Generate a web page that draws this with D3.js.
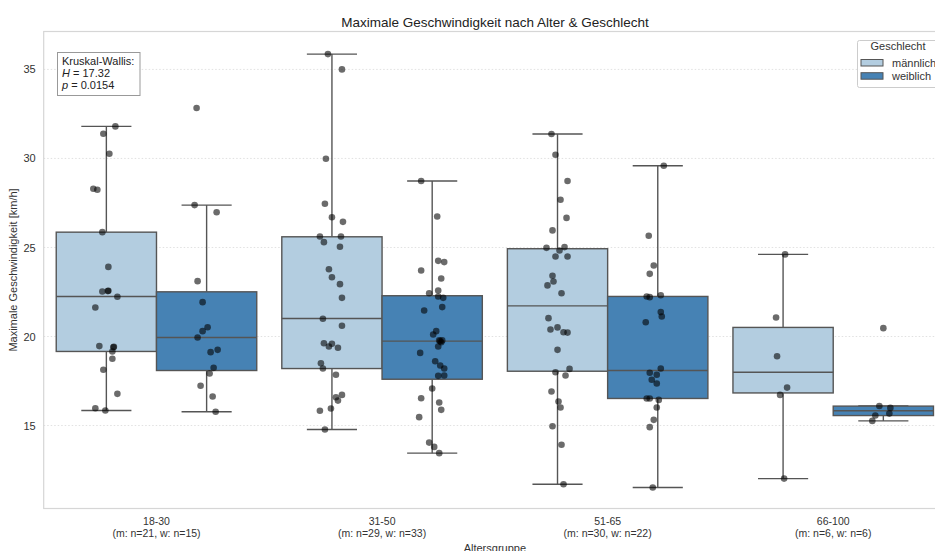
<!DOCTYPE html>
<html><head><meta charset="utf-8">
<script src="https://cdn.jsdelivr.net/npm/d3@7"></script>
<style>
html,body{margin:0;padding:0;background:#fff;overflow:hidden;}
text{font-family:"Liberation Sans",Arial,sans-serif;}
</style></head>
<body>
<svg id="chart" width="935" height="551"></svg>
<script>
// ---------- data ----------
const groups = ["18-30", "31-50", "51-65", "66-100"];
const groupCounts = ["(m: n=21, w: n=15)", "(m: n=29, w: n=33)", "(m: n=30, w: n=22)", "(m: n=6, w: n=6)"];
const sexes = ["männlich", "weiblich"];
const sexColors = ["#b3cde0", "#4682b4"];
const yTicks = [15, 20, 25, 30, 35];

// box stats [whiskerLow, q1, median, q3, whiskerHigh]
const maleStats = [
  [15.84, 19.16, 22.25, 25.86, 31.8],
  [14.78, 18.2, 21.01, 25.6, 35.86],
  [11.7, 18.05, 21.72, 24.93, 31.37],
  [12.02, 16.83, 17.99, 20.51, 24.61]
];
const femaleStats = [
  [15.77, 18.09, 19.94, 22.51, 27.38],
  [13.45, 17.6, 19.74, 22.29, 28.73],
  [11.52, 16.52, 18.09, 22.25, 29.59],
  [15.26, 15.56, 15.83, 16.09, 16.1]
];

// points: [value, jitter as fraction of box width]
const malePoints = [
  [[31.8,.09],[31.39,-.03],[30.26,.03],[28.3,-.13],[28.24,-.09],[25.86,-.04],[23.91,.02],[22.53,-.04],[22.57,.02],[22.55,.015],[22.23,.11],[21.63,-.11],[19.46,-.07],[19.4,.07],[19.42,.075],[19.16,.06],[18.75,.06],[18.13,-.03],[16.78,.11],[15.97,-.11],[15.84,-.01]],
  [[35.86,-.04],[35.0,.10],[29.98,-.06],[27.46,-.07],[26.7,0],[26.44,.11],[25.62,-.12],[25.62,.09],[25.3,-.08],[25.04,.08],[23.78,-.03],[23.33,0],[22.94,.08],[22.17,.10],[21.0,-.09],[20.6,.10],[19.62,-.08],[19.59,0],[19.44,-.03],[19.37,.06],[18.5,-.11],[18.2,-.09],[17.85,.04],[16.72,.10],[16.59,.04],[16.4,.06],[15.83,-.12],[15.96,-.01],[14.78,-.07]],
  [[31.37,-.06],[30.21,-.02],[28.73,.10],[27.68,.03],[26.66,.09],[25.96,-.05],[24.98,-.11],[24.83,.02],[25.02,.07],[24.49,-.02],[24.49,.10],[23.41,-.05],[23.09,-.04],[22.87,-.10],[22.43,.04],[21.03,-.09],[20.39,-.07],[20.51,0],[20.24,.06],[20.22,.10],[19.25,0],[18.18,.12],[17.99,-.02],[17.81,.08],[16.91,-.06],[16.35,.01],[16.01,.03],[14.96,-.05],[13.92,.04],[11.7,.06]],
  [[24.61,.02],[21.07,-.07],[18.89,-.06],[17.13,.04],[16.72,-.03],[12.02,.01]]
];
const femalePoints = [
  [[32.83,-.10],[27.38,-.12],[26.98,.10],[23.11,-.09],[21.93,-.04],[20.52,.01],[20.30,-.04],[19.94,-.09],[19.25,.11],[19.12,.04],[18.24,.07],[17.92,.03],[17.23,-.06],[16.63,.06],[15.77,.09]],
  [[28.73,-.11],[26.74,.05],[24.25,.06],[24.18,.12],[23.71,-.11],[23.26,.09],[22.58,.06],[22.43,-.03],[22.25,.06],[22.17,.11],[21.46,-.08],[21.65,.10],[20.3,.04],[20.11,.01],[19.78,.07],[19.78,.10],[19.68,.09],[19.74,.08],[19.44,.06],[19.08,-.12],[18.61,.03],[18.37,.08],[18.2,.12],[17.79,.06],[17.81,.12],[17.08,0],[16.53,-.11],[16.29,.07],[15.88,.09],[15.47,-.13],[14.04,-.03],[13.8,.02],[13.45,.07]],
  [[29.59,.06],[25.66,-.09],[23.99,-.04],[23.52,-.08],[22.25,-.11],[22.21,-.08],[22.32,.03],[21.37,.03],[21.12,.04],[20.8,-.12],[17.96,-.08],[17.85,-.01],[18.2,.03],[17.57,-.06],[17.36,-.01],[16.52,-.11],[16.52,-.08],[16.44,.01],[16.01,-.01],[15.32,-.04],[14.91,-.08],[11.52,-.05]],
  [[20.47,0],[16.1,-.04],[15.99,.07],[15.67,.06],[15.56,-.08],[15.26,-.11]]
];
const statTitle = "Kruskal-Wallis:";
const statH = "17.32";
const statP = "0.0154";

// ---------- layout ----------
const svg = d3.select("#chart");
const plot = {left: 43.7, right: 946, top: 31.5, bottom: 508.5};
const x = d3.scaleBand().domain(groups).range([plot.left, plot.right]).padding(0);
const sub = d3.scaleBand().domain(sexes).range([0, x.bandwidth()]).paddingInner(0).paddingOuter(0.125);
const y = d3.scaleLinear().domain([10.34, 37.13]).range([plot.bottom, plot.top]);
const boxW = sub.bandwidth();
const lineCol = "#555";

// grid
svg.append("g").selectAll("line").data(yTicks).join("line")
  .attr("x1", plot.left).attr("x2", plot.right)
  .attr("y1", d => y(d)).attr("y2", d => y(d))
  .attr("stroke", "#d9d9d9").attr("stroke-width", 0.8).attr("stroke-dasharray", "1.5,2");

// frame
svg.append("rect").attr("x", plot.left).attr("y", plot.top)
  .attr("width", plot.right - plot.left).attr("height", plot.bottom - plot.top)
  .attr("fill", "none").attr("stroke", "#d6d6d6").attr("stroke-width", 1.2);

// y axis
const yAxis = d3.axisLeft(y).tickValues(yTicks).tickSize(0).tickPadding(8);
const yg = svg.append("g").attr("transform", `translate(${plot.left},0)`).call(yAxis);
yg.select(".domain").remove();
yg.selectAll("text").attr("font-size", 11).attr("fill", "#333").attr("font-family", "Liberation Sans, Arial, sans-serif");

// x axis
const xAxis = d3.axisBottom(x).tickSize(0).tickPadding(0).tickFormat("");
const xg = svg.append("g").attr("transform", `translate(0,${plot.bottom})`).call(xAxis);
xg.select(".domain").remove();
xg.selectAll(".tick").each(function(d, i) {
  const t = d3.select(this).append("text").attr("fill", "#333").attr("font-size", 10.5)
    .attr("text-anchor", "middle").attr("font-family", "Liberation Sans, Arial, sans-serif");
  t.append("tspan").attr("x", 0).attr("y", 16.5).text(d);
  t.append("tspan").attr("x", 0).attr("y", 28).text(groupCounts[i]);
});

// axis labels & title
svg.append("text").attr("x", (plot.left + plot.right) / 2).attr("y", 551.5)
  .attr("text-anchor", "middle").attr("font-size", 11).attr("fill", "#333").text("Altersgruppe");
svg.append("text").attr("transform", `translate(17,${(plot.top + plot.bottom) / 2}) rotate(-90)`)
  .attr("text-anchor", "middle").attr("font-size", 11).attr("fill", "#333").text("Maximale Geschwindigkeit [km/h]");
svg.append("text").attr("x", 495).attr("y", 27).attr("text-anchor", "middle")
  .attr("font-size", 13.5).attr("fill", "#222").text("Maximale Geschwindigkeit nach Alter & Geschlecht");

// boxes
const allStats = [maleStats, femaleStats];
const allPoints = [malePoints, femalePoints];
sexes.forEach((s, si) => {
  const g = svg.append("g");
  groups.forEach((grp, gi) => {
    const st = allStats[si][gi];
    const x0 = x(grp) + sub(s);
    const cx = x0 + boxW / 2;
    // whiskers
    g.append("line").attr("x1", cx).attr("x2", cx).attr("y1", y(st[3])).attr("y2", y(st[4]))
      .attr("stroke", lineCol).attr("stroke-width", 1.4);
    g.append("line").attr("x1", cx).attr("x2", cx).attr("y1", y(st[1])).attr("y2", y(st[0]))
      .attr("stroke", lineCol).attr("stroke-width", 1.4);
    [st[0], st[4]].forEach(v => {
      g.append("line").attr("x1", cx - boxW / 4).attr("x2", cx + boxW / 4)
        .attr("y1", y(v)).attr("y2", y(v)).attr("stroke", lineCol).attr("stroke-width", 1.4);
    });
    g.append("rect").attr("x", x0).attr("width", boxW)
      .attr("y", y(st[3])).attr("height", y(st[1]) - y(st[3]))
      .attr("fill", sexColors[si]).attr("stroke", lineCol).attr("stroke-width", 1.4);
    g.append("line").attr("x1", x0).attr("x2", x0 + boxW).attr("y1", y(st[2])).attr("y2", y(st[2]))
      .attr("stroke", lineCol).attr("stroke-width", 1.4);
  });
});

// points
sexes.forEach((s, si) => {
  groups.forEach((grp, gi) => {
    const cx = x(grp) + sub(s) + boxW / 2;
    svg.append("g").selectAll("circle").data(allPoints[si][gi]).join("circle")
      .attr("cx", d => cx + d[1] * boxW).attr("cy", d => y(d[0])).attr("r", 3.3)
      .attr("fill", "#000").attr("fill-opacity", 0.58);
  });
});

// stats annotation
const ann = svg.append("g");
ann.append("rect").attr("x", 57.5).attr("y", 52.5).attr("width", 82.5).attr("height", 43)
  .attr("fill", "#fff").attr("fill-opacity", 0.85).attr("stroke", "#999").attr("stroke-width", 1);
const at = ann.append("text").attr("font-size", 11).attr("fill", "#222");
at.append("tspan").attr("x", 62).attr("y", 65).text(statTitle);
const l2 = at.append("tspan").attr("x", 62).attr("y", 77);
l2.append("tspan").attr("font-style", "italic").text("H");
l2.append("tspan").text(" = " + statH);
const l3 = at.append("tspan").attr("x", 62).attr("y", 89);
l3.append("tspan").attr("font-style", "italic").text("p");
l3.append("tspan").text(" = " + statP);

// legend
const lg = svg.append("g");
lg.append("rect").attr("x", 857.5).attr("y", 40.5).attr("width", 100).attr("height", 47).attr("rx", 2)
  .attr("fill", "#fff").attr("fill-opacity", 0.85).attr("stroke", "#ccc");
lg.append("text").attr("x", 898).attr("y", 50).attr("text-anchor", "middle")
  .attr("font-size", 11).attr("fill", "#333").text("Geschlecht");
sexes.forEach((s, si) => {
  lg.append("rect").attr("x", 861).attr("y", 59.5 + si * 13.2).attr("width", 22).attr("height", 6.5)
    .attr("fill", sexColors[si]).attr("stroke", lineCol).attr("stroke-width", 1);
  lg.append("text").attr("x", 892).attr("y", 67 + si * 13.2).attr("font-size", 11).attr("fill", "#333").text(s);
});
</script>
</body></html>
